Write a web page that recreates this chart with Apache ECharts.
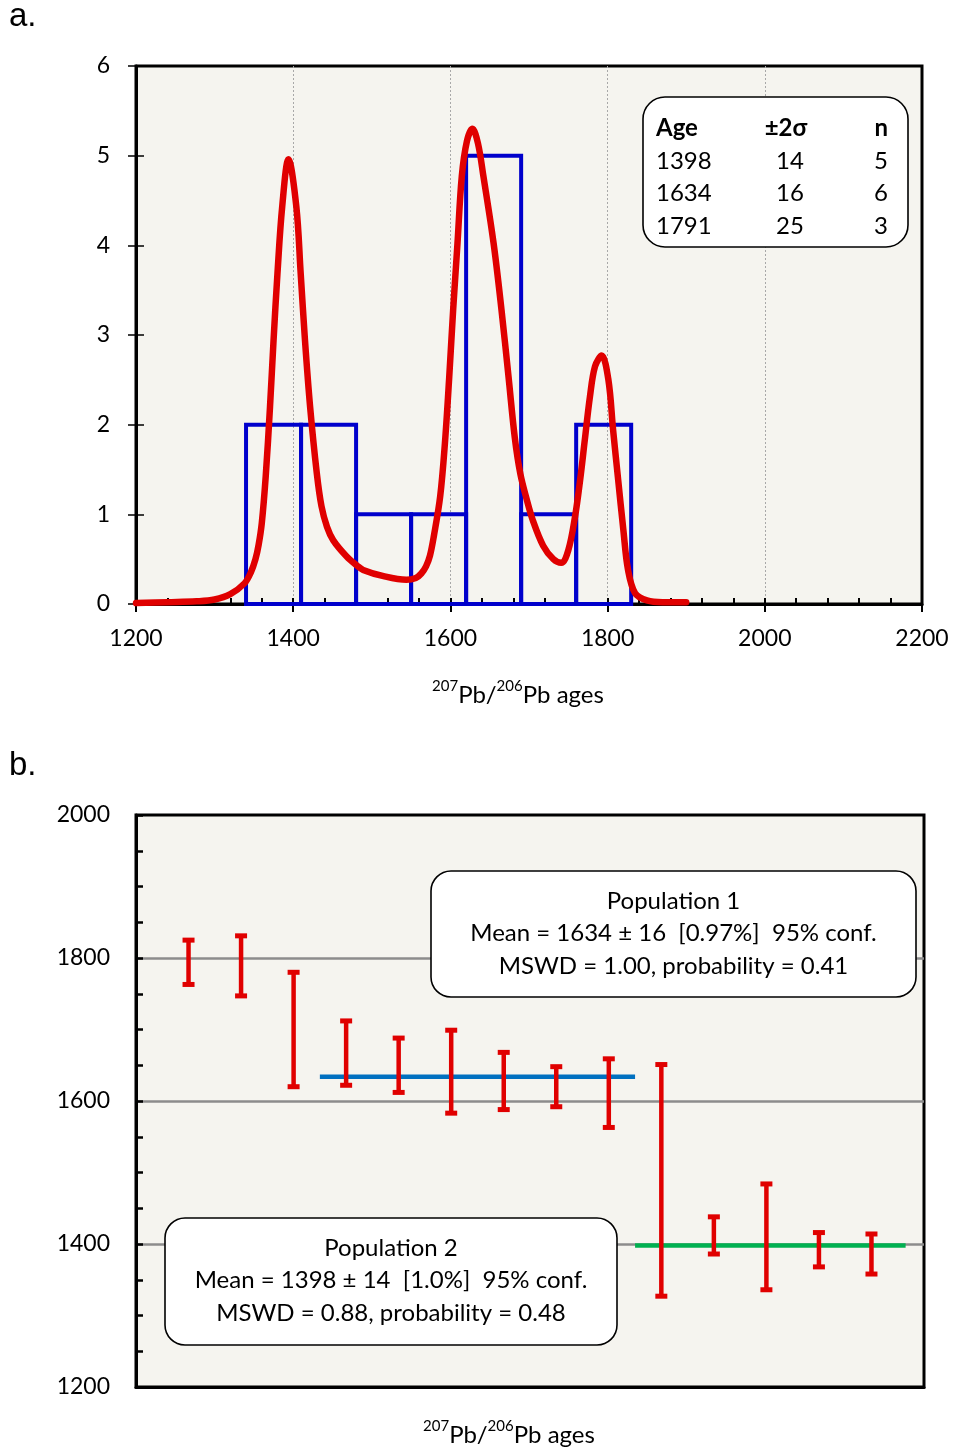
<!DOCTYPE html>
<html>
<head>
<meta charset="utf-8">
<script src="https://cdn.jsdelivr.net/npm/echarts@6/dist/echarts.min.js"></script>
<style>
  html, body { margin: 0; padding: 0; background: #ffffff; }
  #chart { width: 954px; height: 1450px; }
</style>
</head>
<body>
<div id="chart"></div>
<script>
// ---- Panel a: 207Pb/206Pb age histogram and relative probability curve ----
const binEdges = [1340, 1410, 1480, 1550, 1620, 1690, 1760, 1830];
const binCounts = [2, 2, 1, 1, 5, 1, 2];

// relative probability curve: [age (Ma), density]
const probCurve = [
  [1200, 0.01], [1240, 0.02], [1277, 0.03], [1300, 0.05], [1320, 0.11],
  [1338, 0.23], [1346, 0.35], [1352, 0.50], [1356, 0.66], [1360, 0.90],
  [1365, 1.42], [1370.5, 2.20], [1375, 2.94], [1380, 3.69], [1386, 4.43],
  [1394, 4.96], [1404, 4.43], [1409.5, 3.69], [1415, 2.94], [1421.5, 2.20],
  [1430, 1.46], [1436, 1.09], [1443, 0.86], [1451, 0.71], [1468, 0.53],
  [1481, 0.43], [1489, 0.38], [1515, 0.31], [1544, 0.27], [1556, 0.29],
  [1563, 0.34], [1569, 0.42], [1574, 0.54], [1579, 0.76], [1587, 1.20],
  [1593, 1.79], [1598.5, 2.53], [1603.5, 3.28], [1609, 4.02], [1614.5, 4.77],
  [1621, 5.16], [1628, 5.30], [1635, 5.14], [1642, 4.77], [1655, 4.02],
  [1665, 3.28], [1674, 2.53], [1682, 1.85], [1689, 1.45], [1697, 1.17],
  [1705, 0.93], [1718, 0.65], [1731, 0.50], [1741, 0.46], [1750, 0.60],
  [1758.5, 0.97], [1765, 1.38], [1771, 1.83], [1777.5, 2.31], [1784, 2.65],
  [1792.5, 2.77], [1801, 2.50], [1807, 1.94], [1813.5, 1.38], [1820, 0.83],
  [1826, 0.38], [1835, 0.12], [1850, 0.04], [1870, 0.02], [1900, 0.02]
];

// age populations listed in the inset table
const popAges = [1398, 1634, 1791];
const popErr2s = [14, 16, 25];
const popN = [5, 6, 3];

// ---- Panel b: individual analyses (age, ±2σ) in plotting order ----
const grainAges = [1794, 1789, 1700, 1667, 1650, 1641, 1628, 1620, 1611, 1489, 1412, 1410, 1392, 1386];
const grainErr2s = [31, 42, 80, 45, 38, 58, 40, 28, 48, 162, 26, 74, 24, 28];

// weighted means drawn across panel b
const meanTitles = ['Population 1', 'Population 2'];
const meanAges = [1634, 1398];
const meanErr = [16, 14];
const meanPct = ['0.97%', '1.0%'];
const meanMswd = ['1.00', '0.88'];
const meanProb = ['0.41', '0.48'];
const meanFrom = [3.5, 9.5];
const meanTo = [9.5, 14.65];
const meanColors = ['#0070c0', '#00b050'];

const FONT = 'Lato, "Open Sans", sans-serif';
const BG = '#f5f4ef';
const RED = '#e00000';

const chart = echarts.init(document.getElementById('chart'), null, { renderer: 'canvas' });

const labelStyle = { color: '#000', fontFamily: FONT, fontSize: 23, formatter: v => String(v) };

const axisTitle = (x, y) => ({
  type: 'text', x: x, y: y, z: 20,
  style: {
    text: '{s|207}{m|Pb/}{s|206}{m|Pb ages}',
    align: 'center', verticalAlign: 'middle',
    rich: {
      s: { fontFamily: FONT, fontSize: 15, lineHeight: 28, verticalAlign: 'top', fill: '#000' },
      m: { fontFamily: FONT, fontSize: 24, lineHeight: 28, verticalAlign: 'bottom', fill: '#000' }
    }
  }
});

// inset table for panel a
const tableX = 643, tableY = 97, tableW = 265, tableH = 150;
const rowY0 = 128, rowStep = 32.8;
const cellStyle = (text, align, bold) => ({
  text: text, fontFamily: FONT, fontWeight: bold ? 'bold' : 'normal', fontSize: 24,
  fill: '#000', align: align, verticalAlign: 'middle'
});
const tableItems = [
  { type: 'rect', z: 20, shape: { x: tableX, y: tableY, width: tableW, height: tableH, r: 22 },
    style: { fill: '#fff', stroke: '#000', lineWidth: 1.6 } },
  { type: 'text', z: 21, x: 656, y: rowY0, style: cellStyle('Age', 'left', true) },
  { type: 'text', z: 21, x: 786, y: rowY0, style: cellStyle('±2σ', 'center', true) },
  { type: 'text', z: 21, x: 888, y: rowY0, style: cellStyle('n', 'right', true) }
];
popAges.forEach((a, i) => {
  const y = rowY0 + rowStep * (i + 1);
  tableItems.push(
    { type: 'text', z: 21, x: 656, y: y, style: cellStyle(String(a), 'left') },
    { type: 'text', z: 21, x: 790, y: y, style: cellStyle(String(popErr2s[i]), 'center') },
    { type: 'text', z: 21, x: 888, y: y, style: cellStyle(String(popN[i]), 'right') }
  );
});

// weighted-mean boxes for panel b
const boxRects = [
  { x: 431, y: 871, w: 485, h: 126 },
  { x: 165, y: 1218, w: 452, h: 127 }
];
const meanBoxItems = [];
boxRects.forEach((b, i) => {
  meanBoxItems.push({ type: 'rect', z: 20, shape: { x: b.x, y: b.y, width: b.w, height: b.h, r: 20 },
    style: { fill: '#fff', stroke: '#000', lineWidth: 1.6 } });
  const lines = [
    meanTitles[i],
    'Mean = ' + meanAges[i] + ' ± ' + meanErr[i] + '  [' + meanPct[i] + ']  95% conf.',
    'MSWD = ' + meanMswd[i] + ', probability = ' + meanProb[i]
  ];
  lines.forEach((t, k) => {
    meanBoxItems.push({ type: 'text', z: 21, x: b.x + b.w / 2, y: b.y + 30 + k * 32.5,
      style: { text: t, fontFamily: FONT, fontSize: 24, fill: '#000', align: 'center', verticalAlign: 'middle' } });
  });
});

const option = {
  animation: false,
  backgroundColor: '#ffffff',
  grid: [
    { left: 136, top: 66, width: 786, height: 538, show: true, backgroundColor: BG, borderColor: '#000', borderWidth: 3, containLabel: false },
    { left: 136, top: 815, width: 788, height: 572, show: true, backgroundColor: BG, borderColor: '#000', borderWidth: 3, containLabel: false }
  ],
  xAxis: [
    { gridIndex: 0, type: 'value', min: 1200, max: 2200, interval: 200, position: 'bottom',
      axisLine: { show: true, onZero: false, lineStyle: { color: '#000', width: 3 } },
      axisTick: { show: true, inside: false, length: 8, lineStyle: { color: '#000', width: 2 } },
      axisLabel: { show: true, margin: 23, ...labelStyle },
      splitLine: { show: true, showMinLine: false, showMaxLine: false, lineStyle: { color: '#a8a8a8', width: 1, type: [2, 2] } } },
    { gridIndex: 0, type: 'value', min: 1200, max: 2200, interval: 200, position: 'bottom',
      axisLine: { show: false, onZero: false },
      axisTick: { show: true, inside: true, length: 6, lineStyle: { color: '#000', width: 2 } },
      minorTick: { show: true, splitNumber: 5, length: 6, lineStyle: { color: '#000', width: 2 } },
      axisLabel: { show: false }, splitLine: { show: false } },
    { gridIndex: 1, type: 'value', min: 0, max: 15, position: 'bottom',
      axisLine: { show: true, onZero: false, lineStyle: { color: '#000', width: 3 } },
      axisTick: { show: false }, axisLabel: { show: false }, splitLine: { show: false } }
  ],
  yAxis: [
    { gridIndex: 0, type: 'value', min: 0, max: 6, interval: 1, position: 'left',
      axisLine: { show: true, onZero: false, lineStyle: { color: '#000', width: 3 } },
      axisTick: { show: true, inside: false, length: 8, lineStyle: { color: '#000', width: 1.5 } },
      axisLabel: { show: true, margin: 26, ...labelStyle },
      splitLine: { show: false } },
    { gridIndex: 0, type: 'value', min: 0, max: 6, interval: 1, position: 'left',
      axisLine: { show: false, onZero: false },
      axisTick: { show: true, inside: true, length: 8, lineStyle: { color: '#000', width: 1.5 } },
      axisLabel: { show: false }, splitLine: { show: false } },
    { gridIndex: 1, type: 'value', min: 1200, max: 2000, interval: 200, position: 'left',
      axisLine: { show: true, onZero: false, lineStyle: { color: '#000', width: 3 } },
      axisTick: { show: true, inside: true, length: 7, lineStyle: { color: '#000', width: 2.5 } },
      minorTick: { show: true, splitNumber: 4, length: 7, lineStyle: { color: '#000', width: 2.5 } },
      axisLabel: { show: true, margin: 26, ...labelStyle },
      splitLine: { show: true, showMinLine: false, showMaxLine: false, lineStyle: { color: '#8c8c8c', width: 2.5 } } }
  ],
  series: [
    // histogram bins as outlined boxes
    { type: 'custom', xAxisIndex: 0, yAxisIndex: 0, z: 3,
      data: binCounts.map((c, i) => [binEdges[i], binEdges[i + 1], c]),
      renderItem: function (params, api) {
        const p0 = api.coord([api.value(0), 0]);
        const p1 = api.coord([api.value(1), api.value(2)]);
        return { type: 'rect',
          shape: { x: p0[0], y: p1[1], width: p1[0] - p0[0], height: p0[1] - p1[1] },
          style: { fill: 'none', stroke: '#0000cc', lineWidth: 4 } };
      } },
    // relative probability curve
    { type: 'line', xAxisIndex: 0, yAxisIndex: 0, z: 4,
      data: probCurve, showSymbol: false, smooth: 0.35,
      lineStyle: { color: RED, width: 6.5, cap: 'round', join: 'round' } },
    // weighted-mean lines
    ...meanAges.map((m, i) => ({
      type: 'line', xAxisIndex: 2, yAxisIndex: 2, z: 3,
      data: [[meanFrom[i], m], [meanTo[i], m]], showSymbol: false,
      lineStyle: { color: meanColors[i], width: 4.5 }
    })),
    // individual ages with 2σ error bars
    { type: 'custom', xAxisIndex: 2, yAxisIndex: 2, z: 5,
      data: grainAges.map((a, i) => [i + 1, a, grainErr2s[i]]),
      renderItem: function (params, api) {
        const x = api.value(0), y = api.value(1), e = api.value(2);
        const top = api.coord([x, y + e]);
        const bot = api.coord([x, y - e]);
        const w = 12, h = 5;
        return { type: 'group', children: [
          { type: 'line', shape: { x1: top[0], y1: top[1], x2: bot[0], y2: bot[1] }, style: { stroke: RED, lineWidth: 4.5 } },
          { type: 'rect', shape: { x: top[0] - w / 2, y: top[1] - h / 2, width: w, height: h }, style: { fill: RED } },
          { type: 'rect', shape: { x: bot[0] - w / 2, y: bot[1] - h / 2, width: w, height: h }, style: { fill: RED } }
        ] };
      } }
  ],
  graphic: [
    { type: 'text', x: 9, y: 17, z: 20, style: { text: 'a.', fontFamily: 'Liberation Sans, Arial, sans-serif', fontSize: 33, fill: '#000', align: 'left', verticalAlign: 'middle' } },
    { type: 'text', x: 9, y: 766, z: 20, style: { text: 'b.', fontFamily: 'Liberation Sans, Arial, sans-serif', fontSize: 33, fill: '#000', align: 'left', verticalAlign: 'middle' } },
    axisTitle(518, 693),
    axisTitle(509, 1433),
    ...tableItems,
    ...meanBoxItems
  ]
};

chart.setOption(option);
</script>
</body>
</html>
